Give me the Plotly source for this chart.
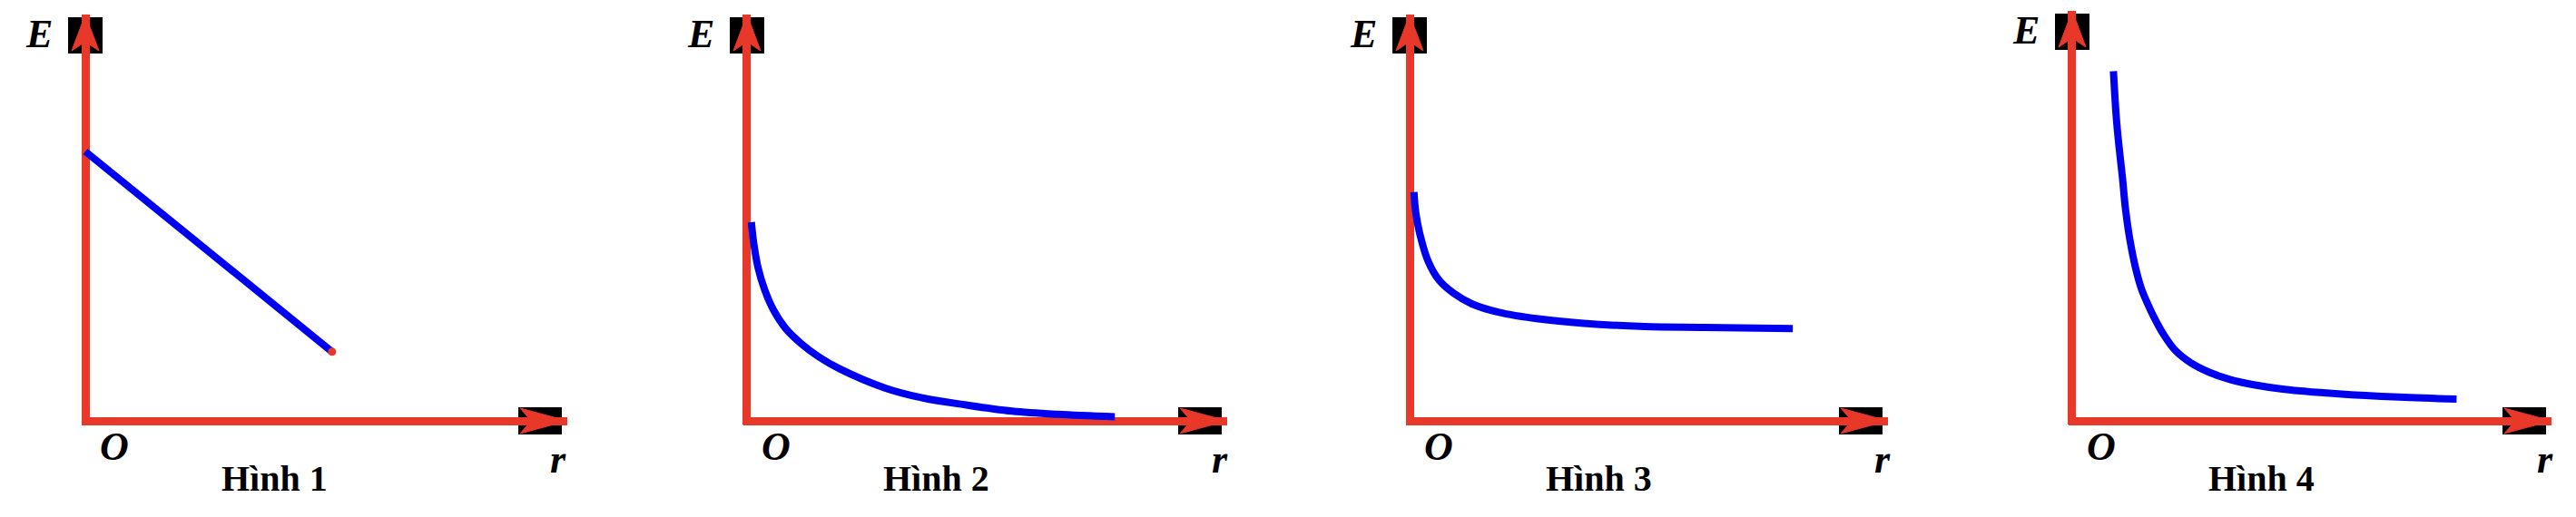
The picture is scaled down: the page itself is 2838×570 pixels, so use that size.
import plotly.graph_objects as go

W, H = 2838, 570

# ---- data (r, E) for each figure ----
r1 = [0.0, 5.12]
E1 = [6.63, 1.70]

r2 = [0.09, 0.14, 0.23, 0.36, 0.55, 0.80, 1.12, 1.49, 1.93, 2.87, 3.63, 4.57, 5.52, 6.47, 7.66]
E2 = [4.89, 4.37, 3.77, 3.25, 2.73, 2.28, 1.91, 1.58, 1.28, 0.81, 0.57, 0.39, 0.24, 0.16, 0.10]

r3 = [0.09, 0.13, 0.23, 0.39, 0.61, 0.92, 1.30, 1.87, 2.69, 3.64, 4.91, 6.17, 8.01]
E3 = [5.63, 5.11, 4.52, 3.92, 3.47, 3.14, 2.88, 2.67, 2.51, 2.40, 2.32, 2.30, 2.27]

r4 = [0.86, 0.92, 0.98, 1.05, 1.11, 1.20, 1.33, 1.45, 1.55, 1.71, 1.90, 2.15, 2.47, 2.85, 3.29,
      3.79, 4.43, 5.56, 6.82, 8.02]
E4 = [8.53, 7.39, 6.65, 5.91, 5.18, 4.44, 3.69, 3.20, 2.92, 2.52, 2.12, 1.72, 1.42, 1.19, 1.01,
      0.88, 0.77, 0.66, 0.58, 0.53]

panel_titles = ["Hình 1", "Hình 2", "Hình 3", "Hình 4"]
series = [(r1, E1), (r2, E2), (r3, E3), (r4, E4)]

# ---- layout geometry (pixels) ----
origins_x = [94, 823, 1553, 2283]     # pixel of r = 0
ends_x = [625, 1352, 2080, 2811]      # pixel of r = 10 (arrow tip)
tops_y = [16, 16, 16, 12]             # pixel of E = 10 (arrow tip)
base_y = 464                          # pixel of E = 0

RED = "#E8382A"
BLUE = "#0000F0"
LO = -0.08

fig = go.Figure()
layout = dict(width=W, height=H, margin=dict(l=0, r=0, t=0, b=0),
              paper_bgcolor="white", plot_bgcolor="white", showlegend=False,
              shapes=[], annotations=[])

serif = "Liberation Serif"


def px(x):
    return x / W


def py(y):
    return 1 - y / H


for i in range(4):
    n = "" if i == 0 else str(i + 1)
    xa, ya = "x" + n, "y" + n
    x0, x1 = origins_x[i], ends_x[i]
    top = tops_y[i]
    sx = (x1 - x0) / 10.0
    sy = (base_y - top) / 10.0
    xdom = [px(x0 + LO * sx), px(x1)]
    ydom = [py(base_y - LO * sy), py(top)]
    axis_common = dict(showgrid=False, showticklabels=False, ticks="", showline=False,
                       zeroline=True, zerolinecolor=RED, zerolinewidth=9, fixedrange=True)
    layout["xaxis" + n] = dict(domain=xdom, range=[LO, 10], anchor=ya, **axis_common)
    layout["yaxis" + n] = dict(domain=ydom, range=[LO, 10], anchor=xa, **axis_common)

    rr, ee = series[i]
    fig.add_trace(go.Scatter(x=rr, y=ee, mode="lines", xaxis=xa, yaxis=ya,
                             line=dict(color=BLUE, width=8, shape="spline", smoothing=1.0),
                             hoverinfo="skip"))
    if i == 0:
        fig.add_trace(go.Scatter(x=[rr[-1]], y=[ee[-1]], mode="markers", xaxis=xa, yaxis=ya,
                                 marker=dict(color=RED, size=9), hoverinfo="skip"))

    common = dict(xref="paper", yref="paper", xsizemode="pixel", ysizemode="pixel")
    # black boxes behind the arrow heads
    layout["shapes"].append(dict(type="rect", xanchor=px(x0), yanchor=py(top),
                                 x0=-19, x1=19, y0=-3, y1=-43,
                                 fillcolor="black", line=dict(width=0), layer="below", **common))
    layout["shapes"].append(dict(type="rect", xanchor=px(x1), yanchor=py(base_y),
                                 x0=-54, x1=-6, y0=-15, y1=15,
                                 fillcolor="black", line=dict(width=0), layer="below", **common))
    # arrow heads
    layout["shapes"].append(dict(type="path", xanchor=px(x0), yanchor=py(top),
                                 path="M0,0 L-15,-40 L0,-30 L15,-40 Z",
                                 fillcolor=RED, line=dict(color=RED, width=1), layer="above", **common))
    layout["shapes"].append(dict(type="path", xanchor=px(x1), yanchor=py(base_y),
                                 path="M0,0 L-52,14 L-40,0 L-52,-14 Z",
                                 fillcolor=RED, line=dict(color=RED, width=1), layer="above", **common))

    def ann(text, ax_, ay_, size):
        layout["annotations"].append(dict(text=text, x=px(ax_), y=py(ay_), xref="paper", yref="paper",
                                          xanchor="center", yanchor="middle", showarrow=False,
                                          font=dict(family=serif, size=size, color="black")))
    ann("<b><i>E</i></b>", x0 - 51, top + 22, 44)
    ann("<b><i>O</i></b>", x0 + 32, 492, 44)
    ann("<b><i>r</i></b>", x0 + 521, 506, 44)
    ann("<b>" + panel_titles[i] + "</b>", x0 + 208, 527, 40)

fig.update_layout(**layout)

fig.write_html("out.html", config={"displayModeBar": False, "staticPlot": True},
               post_script="document.body.style.margin='0';document.body.style.overflow='hidden';")
